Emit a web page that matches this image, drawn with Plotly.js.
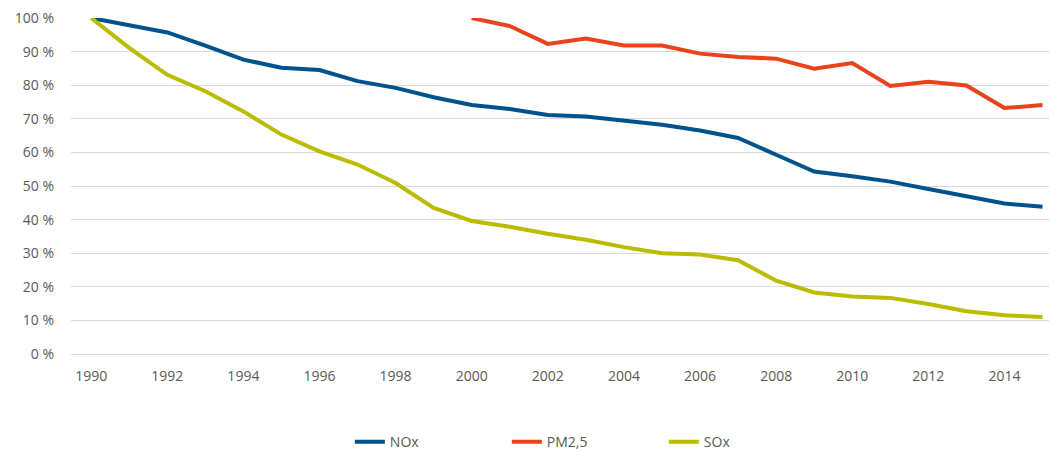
<!DOCTYPE html>
<html>
<head>
<meta charset="utf-8">
<script src="https://cdn.plot.ly/plotly-3.0.1.min.js"></script>
<style>
  html, body { margin: 0; padding: 0; background: #fff; overflow: hidden; }
  #plot { width: 1049px; height: 452px; }
</style>
</head>
<body>
<div id="plot"></div>
<script>
// index, 1990 = 100 % (PM2,5: 2000 = 100 %)
var years = [];
for (var y = 1990; y <= 2015; y++) years.push(y);
var pmYears = years.slice(10);

var nox = [100, 97.8, 95.7, 91.8, 87.6, 85.2, 84.5, 81.2, 79.2, 76.4,
           74.1, 72.9, 71.1, 70.7, 69.4, 68.2, 66.5, 64.3, 59.3, 54.3,
           52.9, 51.3, 49.1, 46.9, 44.8, 43.8];
var pm25 = [100, 97.6, 92.3, 93.9, 91.8, 91.8, 89.4, 88.4, 87.9, 84.9,
            86.6, 79.8, 81.0, 79.9, 73.2, 74.1];
var sox = [100, 91.1, 83.1, 78.2, 72.2, 65.3, 60.3, 56.4, 50.9, 43.5,
           39.6, 37.9, 35.8, 34.0, 31.8, 30.0, 29.6, 27.9, 21.8, 18.3,
           17.1, 16.7, 14.9, 12.7, 11.5, 11.0];

var xTicks = [1990, 1992, 1994, 1996, 1998, 2000, 2002, 2004, 2006, 2008, 2010, 2012, 2014];

var trace1 = { x: years, y: nox, name: "NOx", type: "scatter", mode: "lines",
  line: { color: "#00528C", width: 4 } };
var trace2 = { x: pmYears, y: pm25, name: "PM2,5", type: "scatter", mode: "lines",
  line: { color: "#E8431A", width: 4 } };
var trace3 = { x: years, y: sox, name: "SOx", type: "scatter", mode: "lines",
  line: { color: "#BABC00", width: 4 } };

var data = [trace1, trace2, trace3];

var layout = {
  width: 1049,
  height: 452,
  margin: { l: 71, r: 0, t: 18, b: 98 },
  paper_bgcolor: "#fff",
  plot_bgcolor: "#fff",
  font: { family: "Open Sans, Liberation Sans, sans-serif", size: 14, color: "#595959" },
  showlegend: true,
  legend: {
    orientation: "h",
    xref: "container", yref: "container",
    x: 0.558, xanchor: "center",
    y: 0.022, yanchor: "middle",
    entrywidth: 112,
    font: { size: 14, color: "#595959" }
  },
  xaxis: {
    range: [1989.47, 2015.17],
    tickvals: xTicks,
    showgrid: false,
    zeroline: false,
    showline: false,
    ticks: "",
    ticklabelstandoff: 12,
    fixedrange: true
  },
  yaxis: {
    range: [0, 100],
    dtick: 10,
    ticksuffix: " %",
    showgrid: true,
    gridcolor: "#D9D9D9",
    gridwidth: 1,
    zeroline: true,
    zerolinecolor: "#D9D9D9",
    zerolinewidth: 1,
    ticks: "",
    ticklabelstandoff: 16,
    fixedrange: true
  },
  hovermode: false
};

Plotly.newPlot("plot", data, layout, { displayModeBar: false, staticPlot: true });
</script>
</body>
</html>
